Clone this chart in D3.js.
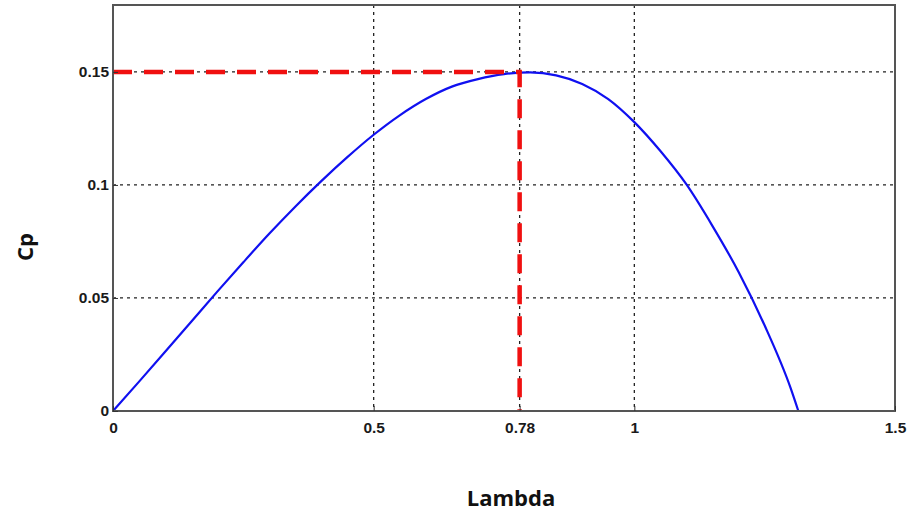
<!DOCTYPE html>
<html><head><meta charset="utf-8">
<script src="https://cdn.jsdelivr.net/npm/d3@7"></script>
<style>body{margin:0;background:#fff}</style>
</head><body>
<svg id="c" width="910" height="516"></svg>
<script>
const lambda = [0,0.05,0.1,0.15,0.2,0.25,0.3,0.35,0.4,0.45,0.5,0.55,0.6,0.65,0.7,0.75,0.8,0.85,0.9,0.95,1.0,1.05,1.1,1.15,1.2,1.25,1.3,1.3146];
const cp     = [0,0.0130,0.0262,0.0395,0.0528,0.0658,0.0785,0.0905,0.1018,0.1124,0.1222,0.1308,0.1380,0.1435,0.1468,0.1490,0.1498,0.1485,0.1447,0.1380,0.1278,0.1150,0.1002,0.0818,0.0615,0.0378,0.0100,0];
const xTicks = [0,0.5,0.78,1,1.5];
const xTickLabels = ["0","0.5","0.78","1","1.5"];
const yTicks = [0,0.05,0.1,0.15];
const yTickLabels = ["0","0.05","0.1","0.15"];
const optimum = {lambda:0.78, cp:0.15};

const svg = d3.select("#c");
const L=113, R=895, T=5, B=411;
const x = d3.scaleLinear().domain([0,1.5]).range([L,R]);
const y = d3.scaleLinear().domain([0,0.1796]).range([B,T]);
const tickFont = "'Liberation Sans', Arial, sans-serif";
const titleFont = "'Open Sans', Lato, Arial, sans-serif";

// grid
const g = svg.append("g");
g.selectAll("line.vx").data(xTicks.filter(d=>d>0&&d<1.5)).join("line")
  .attr("x1",d=>x(d)).attr("x2",d=>x(d)).attr("y1",T).attr("y2",B)
  .attr("stroke","#222").attr("stroke-width",1.3).attr("stroke-dasharray","3,4");
g.selectAll("line.hy").data(yTicks.filter(d=>d>0)).join("line")
  .attr("x1",L).attr("x2",R).attr("y1",d=>y(d)).attr("y2",d=>y(d))
  .attr("stroke","#222").attr("stroke-width",1.3).attr("stroke-dasharray","3,4");

// curve
svg.append("path").datum(lambda.map((l,i)=>[l,cp[i]]))
  .attr("d", d3.line().x(d=>x(d[0])).y(d=>y(d[1])).curve(d3.curveMonotoneX))
  .attr("fill","none").attr("stroke","#1010f0").attr("stroke-width",2.2);

// red optimum lines
svg.append("path")
  .attr("d",`M${x(0)},${y(optimum.cp)}H${x(optimum.lambda)}V${y(0)}`)
  .attr("fill","none").attr("stroke","#f01010").attr("stroke-width",4.5)
  .attr("stroke-dasharray","19,12");

// frame
svg.append("rect").attr("x",L).attr("y",T).attr("width",R-L).attr("height",B-T)
  .attr("fill","none").attr("stroke","#555").attr("stroke-width",2);

// axes ticks (inside)
const xa = d3.axisBottom(x).tickValues(xTicks).tickSize(-5).tickFormat((d,i)=>xTickLabels[i]).tickPadding(11);
const xg = svg.append("g").attr("transform",`translate(0,${B})`).call(xa);
const ya = d3.axisLeft(y).tickValues(yTicks).tickSize(-5).tickFormat((d,i)=>yTickLabels[i]).tickPadding(4);
const yg = svg.append("g").attr("transform",`translate(${L},0)`).call(ya);
[xg,yg].forEach(a=>{
  a.select(".domain").remove();
  a.selectAll(".tick line").attr("stroke","#333");
  a.selectAll("text").attr("font-family",tickFont).attr("font-weight","bold").attr("font-size",15.5).attr("fill","#1a1a1a");
});

svg.append("text").attr("x",511).attr("y",506).attr("text-anchor","middle")
  .attr("font-family",titleFont).attr("font-weight","bold").attr("font-size",22).attr("fill","#111").text("Lambda");
svg.append("text").attr("transform","translate(33,247) rotate(-90)").attr("text-anchor","middle")
  .attr("font-family",titleFont).attr("font-weight","bold").attr("font-size",22).attr("fill","#111").text("Cp");
</script>
</body></html>
